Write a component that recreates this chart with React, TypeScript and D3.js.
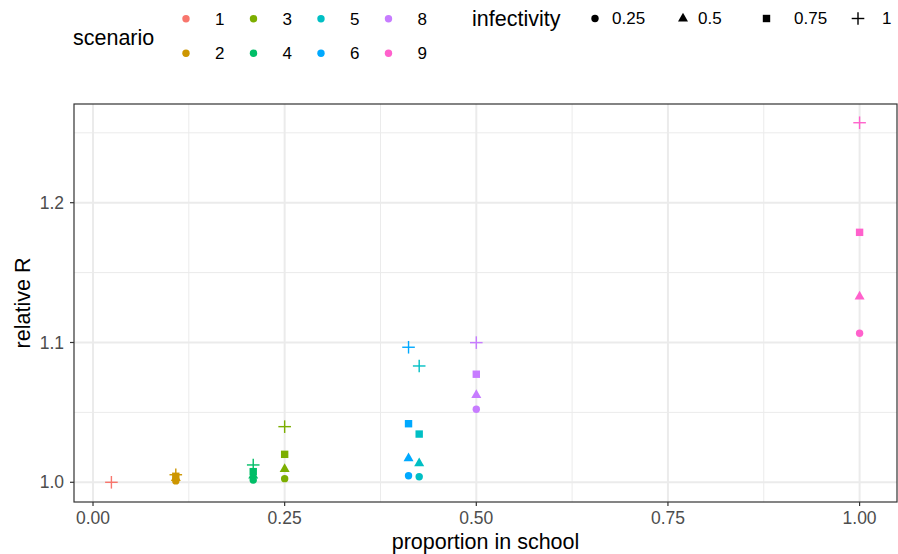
import React from "react";
import * as d3 from "d3";

const scenarios = ["1", "2", "3", "4", "5", "6", "8", "9"];
const scenarioColors = ["#F8766D", "#CD9600", "#7CAE00", "#00BE67", "#00BFC4", "#00A9FF", "#C77CFF", "#FF61CC"];
const proportion = [0.024, 0.108, 0.25, 0.209, 0.4255, 0.4116, 0.5, 1.0];
const infectivityLevels = ["0.25", "0.5", "0.75", "1"];
const rInf025 = [null, 1.001, 1.0026, 1.0016, 1.004, 1.0047, 1.0522, 1.1066];
const rInf05 = [null, 1.003, 1.0095, 1.0048, 1.0136, 1.0172, 1.0624, 1.1328];
const rInf075 = [null, 1.0043, 1.02, 1.0076, 1.0345, 1.0419, 1.0773, 1.1788];
const rInf1 = [1.0, 1.0054, 1.0398, 1.0124, 1.0832, 1.0966, 1.0999, 1.2572];
const xTicks = [0, 0.25, 0.5, 0.75, 1];
const xTickLabels = ["0.00", "0.25", "0.50", "0.75", "1.00"];
const xMinor = [0.125, 0.375, 0.625, 0.875];
const yTicks = [1.0, 1.1, 1.2];
const yTickLabels = ["1.0", "1.1", "1.2"];
const yMinor = [1.05, 1.15, 1.25];

const W = 898, H = 554;
const M = { left: 74, right: 897, top: 104, bottom: 502 };
const FONT = "'Liberation Sans', Arial, sans-serif";
const TITLE = 21.5;
const TICK = 17.5;
const LEG = 17;

function Shape({ kind, x, y, color }: { kind: number; x: number; y: number; color: string }) {
  if (kind === 0) return <circle cx={x} cy={y} r={3.7} fill={color} />;
  if (kind === 1) {
    const s = 5;
    const h = s * Math.sqrt(3);
    const p = [[x - s, y + h / 3], [x + s, y + h / 3], [x, y - (2 * h) / 3]];
    return <polygon points={p.map((q) => q.join(",")).join(" ")} fill={color} />;
  }
  if (kind === 2) return <rect x={x - 3.7} y={y - 3.7} width={7.4} height={7.4} fill={color} />;
  const a = 6.3;
  return (
    <g stroke={color} strokeWidth={1.4}>
      <line x1={x - a} x2={x + a} y1={y} y2={y} />
      <line x1={x} x2={x} y1={y - a} y2={y + a} />
    </g>
  );
}

export default function App() {
  const x = d3.scaleLinear().domain([-0.0248, 1.0488]).range([M.left, M.right]);
  const y = d3.scaleLinear().domain([0.9859, 1.2706]).range([M.bottom, M.top]);
  const series = [rInf025, rInf05, rInf075, rInf1];

  const points: any[] = [];
  series.forEach((vals, k) => {
    vals.forEach((v, i) => {
      if (v === null) return;
      points.push(<Shape key={`${k}-${i}`} kind={k} x={x(proportion[i])} y={y(v as number)} color={scenarioColors[i]} />);
    });
  });

  const legendCols = [186, 253.5, 321, 388.5];
  const legendRows = [18.7, 53.3];
  const infKeyX = [595, 683, 766.5, 858];
  const infLabelX = [612, 698, 794, 882];

  return (
    <svg width={W} height={H} style={{ position: "absolute", left: 0, top: 0, background: "#fff" }} fontFamily={FONT}>
      <rect x={0} y={0} width={W} height={H} fill="#fff" />
      <g>
        {xMinor.map((t) => (
          <line key={`xm${t}`} x1={x(t)} x2={x(t)} y1={M.top} y2={M.bottom} stroke="#EBEBEB" strokeWidth={1} />
        ))}
        {yMinor.map((t) => (
          <line key={`ym${t}`} y1={y(t)} y2={y(t)} x1={M.left} x2={M.right} stroke="#EBEBEB" strokeWidth={1} />
        ))}
        {xTicks.map((t) => (
          <line key={`xg${t}`} x1={x(t)} x2={x(t)} y1={M.top} y2={M.bottom} stroke="#EBEBEB" strokeWidth={2} />
        ))}
        {yTicks.map((t) => (
          <line key={`yg${t}`} y1={y(t)} y2={y(t)} x1={M.left} x2={M.right} stroke="#EBEBEB" strokeWidth={2} />
        ))}
      </g>
      {points}
      <rect x={M.left} y={M.top} width={M.right - M.left} height={M.bottom - M.top} fill="none" stroke="#333333" strokeWidth={1.2} />
      {xTicks.map((t, i) => (
        <g key={`xt${t}`}>
          <line x1={x(t)} x2={x(t)} y1={M.bottom} y2={M.bottom + 4} stroke="#333333" strokeWidth={1.2} />
          <text x={x(t)} y={524} textAnchor="middle" fontSize={TICK} fill="#4D4D4D">{xTickLabels[i]}</text>
        </g>
      ))}
      {yTicks.map((t, i) => (
        <g key={`yt${t}`}>
          <line x1={M.left - 4} x2={M.left} y1={y(t)} y2={y(t)} stroke="#333333" strokeWidth={1.2} />
          <text x={M.left - 10} y={y(t)} dy="0.35em" textAnchor="end" fontSize={TICK} fill="#4D4D4D">{yTickLabels[i]}</text>
        </g>
      ))}
      <text x={(M.left + M.right) / 2} y={549} textAnchor="middle" fontSize={TITLE} fill="#000">proportion in school</text>
      <text transform={`translate(22,${(M.top + M.bottom) / 2}) rotate(-90)`} dy="0.35em" textAnchor="middle" fontSize={TITLE} fill="#000">relative R</text>
      <text x={73} y={37} dy="0.35em" fontSize={TITLE} fill="#000">scenario</text>
      {scenarios.map((s, i) => {
        const col = Math.floor(i / 2);
        const row = i % 2;
        return (
          <g key={`lg${s}`}>
            <circle cx={legendCols[col]} cy={legendRows[row]} r={3.7} fill={scenarioColors[i]} />
            <text x={legendCols[col] + 29} y={legendRows[row]} dy="0.35em" fontSize={LEG} fill="#000">{s}</text>
          </g>
        );
      })}
      <text x={472} y={18.5} dy="0.35em" fontSize={TITLE} fill="#000">infectivity</text>
      {infectivityLevels.map((l, k) => (
        <g key={`li${l}`}>
          <Shape kind={k} x={infKeyX[k]} y={18.5} color="#000" />
          <text x={infLabelX[k]} y={18.5} dy="0.35em" fontSize={LEG} fill="#000">{l}</text>
        </g>
      ))}
    </svg>
  );
}
